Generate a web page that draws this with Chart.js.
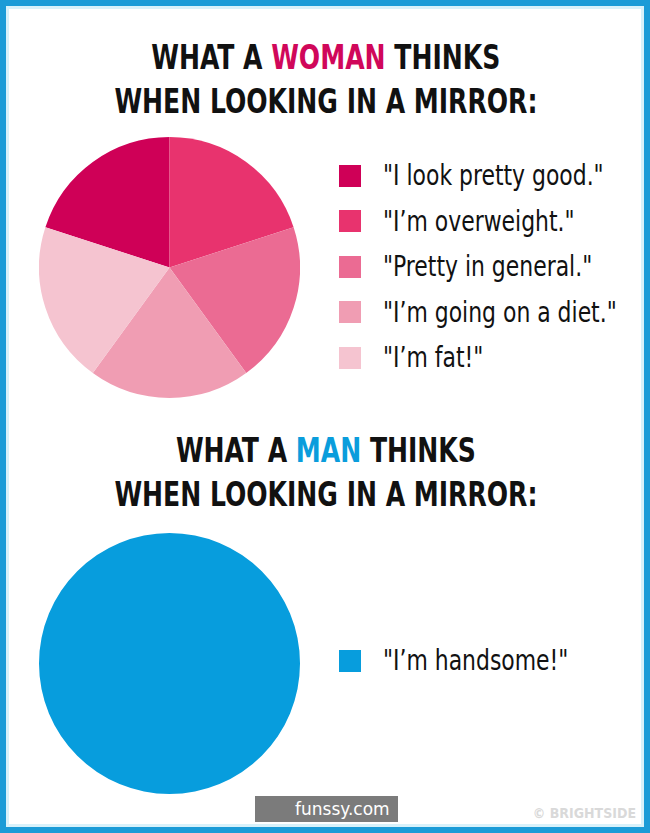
<!DOCTYPE html>
<html>
<head>
<meta charset="utf-8">
<script src="https://cdn.jsdelivr.net/npm/chart.js@4.4.0/dist/chart.umd.min.js"></script>
<style>
  html, body { margin: 0; padding: 0; background: #e8f6fb; }
  #page {
    position: relative; width: 650px; height: 833px; box-sizing: border-box;
    background: #fff; border: 6px solid #1b9bd7; outline: 3px solid #d8f1fa; outline-offset: -9px;
    font-family: "DejaVu Sans Condensed", "Liberation Sans Narrow", "Roboto Condensed", "DejaVu Sans", sans-serif;
    overflow: hidden;
  }
  .title {
    position: absolute; left: 0; width: 640px; text-align: center;
    font-weight: bold; font-size: 34px; line-height: 44px; color: #111;
  }
  .title div { display: inline-block; transform: scaleX(0.82); white-space: nowrap; }
  .title .w { color: #d0075a; }
  .title .m { color: #0a9ddc; }
  .pie { position: absolute; }
  .legend { position: absolute; left: 333px; list-style: none; margin: 0; padding: 0; }
  .legend li { height: 45.5px; display: flex; align-items: center; font-size: 28px; color: #111; white-space: nowrap; }
  .legend li span.box { width: 22px; height: 22px; margin-right: 22px; flex: none; }
  .legend li span.txt { display: inline-block; transform: scaleX(0.87); transform-origin: left center; }
  #funssy { position: absolute; left: 249px; top: 790px; width: 143px; height: 26px; background: #7b7b7b;
    color: #fff; font-family: "DejaVu Sans", sans-serif; font-size: 17px; line-height: 26px; padding-left: 40px; box-sizing: border-box; }
  #brightside { position: absolute; right: 8px; top: 799px; color: #d9d9d9; font-weight: bold; font-size: 14px; }
</style>
</head>
<body>
<div id="page">
  <div class="title" style="top:29px"><div>WHAT A <span class="w">WOMAN</span> THINKS</div><br><div>WHEN LOOKING IN A MIRROR:</div></div>
  <canvas id="womanPie" class="pie" width="261" height="261" style="left:33px;top:131px"></canvas>
  <ul id="womanLegend" class="legend" style="top:147px"></ul>

  <div class="title" style="top:422px"><div>WHAT A <span class="m">MAN</span> THINKS</div><br><div>WHEN LOOKING IN A MIRROR:</div></div>
  <canvas id="manPie" class="pie" width="261" height="261" style="left:33px;top:527px"></canvas>
  <ul id="manLegend" class="legend" style="top:632px"></ul>

  <div id="funssy">funssy.com</div>
  <div id="brightside">© BRIGHTSIDE</div>
</div>

<script>
// woman chart data
var womanLabels = ['"I look pretty good."', '"I\u2019m overweight."', '"Pretty in general."', '"I\u2019m going on a diet."', '"I\u2019m fat!"'];
var womanValues = [20, 20, 20, 20, 20];
var womanColors = ['#cf0057', '#e8336e', '#eb6b93', '#f09db3', '#f5c4d0'];

// man chart data
var manLabels = ['"I\u2019m handsome!"'];
var manValues = [100];
var manColors = ['#079ddd'];

function makeLegend(id, labels, colors) {
  var ul = document.getElementById(id);
  labels.forEach(function(l, i) {
    var li = document.createElement('li');
    var box = document.createElement('span');
    box.className = 'box';
    box.style.background = colors[i];
    var txt = document.createElement('span');
    txt.className = 'txt';
    txt.textContent = l;
    li.appendChild(box);
    li.appendChild(txt);
    ul.appendChild(li);
  });
}

function makePie(id, labels, values, colors, rotation) {
  var ctx = document.getElementById(id).getContext('2d');
  return new Chart(ctx, {
    type: 'pie',
    data: {
      labels: labels,
      datasets: [{
        data: values,
        backgroundColor: colors,
        borderWidth: 0
      }]
    },
    options: {
      responsive: false,
      animation: false,
      rotation: rotation,
      layout: { padding: 0 },
      plugins: { legend: { display: false }, tooltip: { enabled: false } }
    }
  });
}

makePie('womanPie', womanLabels, womanValues, womanColors, -72);
makePie('manPie', manLabels, manValues, manColors, 0);
makeLegend('womanLegend', womanLabels, womanColors);
makeLegend('manLegend', manLabels, manColors);
</script>
</body>
</html>
